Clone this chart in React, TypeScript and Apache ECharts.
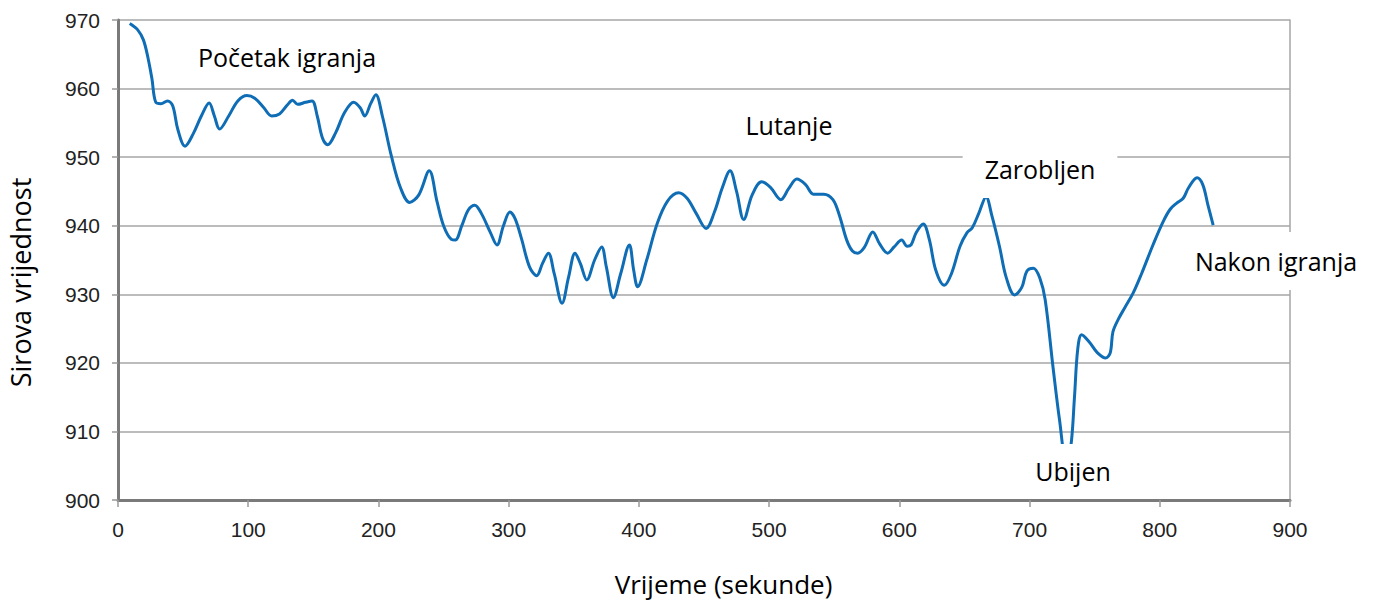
import React, { useEffect, useRef } from "react";
import * as echarts from "echarts";

const timeSec: number[] = [
  9, 15, 19.5, 23, 26, 29, 33, 38, 42, 46, 51.5, 58, 64, 70, 74, 78, 85, 92, 99, 105,
  112, 118, 124, 130, 134, 138, 144, 149, 153, 157, 161, 167, 174, 181, 186, 189.5, 194, 198, 203, 210,
  217, 224, 231, 239, 245, 250, 256, 259, 264, 269, 274, 279, 286, 291, 296, 301, 305, 310, 316, 321.5,
  326, 330.5, 335, 341, 346, 351, 355, 360, 366, 371.4, 375, 380.4, 386, 392.7, 396, 399, 406, 414, 422, 430.5,
  437, 444, 451.6, 458, 464, 470, 475, 480.5, 487, 494.3, 501, 509, 515, 521.3, 528, 534, 542, 549, 554, 559.6,
  564, 568, 573, 579.6, 585, 591, 596, 601.8, 606, 609, 613, 618.4, 623, 628, 634.5, 640, 646.6, 652, 656, 661,
  666.6, 671, 677, 682, 688.5, 694, 698, 703, 708, 712, 718, 723, 728.5, 732, 734.5, 737, 740, 746, 752, 758.5,
  762, 764, 768, 773, 779.6, 786, 795, 802.6, 808, 813, 818, 822, 828.6, 833, 837, 841
];

const rawValue: number[] = [
  969.5, 968.6, 967.1, 964.5, 961.5, 958.0, 957.8, 958.2, 957.5, 954, 951.6, 953.5, 956, 957.9, 956, 954.1, 956, 958.2, 959.0, 958.6,
  957.2, 956.0, 956.3, 957.6, 958.3, 957.7, 958.0, 958.2, 956, 952.8, 951.8, 953.5, 956.5, 958.0, 957.2, 956, 957.8, 959.1, 956, 950.1,
  945.5, 943.4, 944.5, 948.0, 943.5, 940, 938.0, 937.9, 940, 942.3, 943.0, 941.8, 939, 937.2, 940, 942.0, 941, 938, 934, 932.7,
  934.5, 936.0, 933, 928.7, 932.5, 936.0, 934.5, 932.1, 935, 936.9, 934, 929.5, 933, 937.2, 933.5, 931.1, 935, 940.3, 943.6, 944.8,
  944.0, 941.8, 939.6, 942, 945.5, 948.0, 945, 940.9, 944.5, 946.4, 945.6, 943.8, 945.4, 946.8, 946, 944.6, 944.6, 943.8, 941.5, 937.9,
  936.3, 936.0, 936.8, 939.1, 937.3, 936.0, 936.9, 937.9, 937.0, 937.2, 939, 940.25, 938, 933.5, 931.3, 933, 937.0, 939.0, 939.7, 941.8,
  944.2, 941.5, 936.9, 932.5, 929.9, 931, 933.4, 933.8, 932.3, 929.2, 919.4, 911.7, 905, 908.3, 915, 922, 924.1, 923, 921.5, 920.7,
  921.5, 924.5, 926.3, 928, 930.2, 933, 937.3, 940.6, 942.4, 943.3, 944, 945.5, 947.0, 946, 943, 940.1
];

const xTicks = { min: 0, max: 900, interval: 100 };
const yTicks = { min: 900, max: 970, interval: 10 };

const xName = "Vrijeme (sekunde)";
const yName = "Sirova vrijednost";

const annotations: { text: string; x: number; y: number; pad: number[] | number; boxed: boolean }[] = [
  { text: "Početak igranja", x: 287, y: 57, pad: 0, boxed: false },
  { text: "Lutanje", x: 789, y: 125, pad: 0, boxed: false },
  { text: "Zarobljen", x: 1040, y: 169, pad: [15, 22], boxed: true },
  { text: "Ubijen", x: 1073, y: 471, pad: [14, 22, 12, 22], boxed: true },
  { text: "Nakon igranja", x: 1276, y: 261, pad: [15, 22], boxed: true },
];

export default function App() {
  const ref = useRef<HTMLDivElement>(null);
  useEffect(() => {
    if (!ref.current) return;
    const chart = echarts.init(ref.current, null, { renderer: "svg" });
    const data = timeSec.map((t, i) => [t, rawValue[i]]);
    const tickFont = "'Liberation Sans', Arial, sans-serif";
    const textFont = "'Open Sans', 'Noto Sans', sans-serif";
    chart.setOption({
      animation: false,
      backgroundColor: "#ffffff",
      grid: { left: 118, right: 87, top: 20, bottom: 101, containLabel: false, outerBoundsMode: "none" },
      xAxis: {
        type: "value",
        min: xTicks.min,
        max: xTicks.max,
        interval: xTicks.interval,
        name: xName,
        nameLocation: "middle",
        nameGap: 71,
        nameTextStyle: { fontFamily: textFont, fontSize: 26, lineHeight: 26, color: "#000", padding: [0, 0, 0, 39] },
        axisLine: { show: true, lineStyle: { color: "#7a7a7a", width: 3 } },
        axisTick: { show: true, length: 7, lineStyle: { color: "#9a9a9a", width: 1.5 } },
        axisLabel: { fontFamily: tickFont, fontSize: 21, color: "#222", margin: 19 },
        splitLine: { show: false },
      },
      yAxis: [
        {
          type: "value",
          min: yTicks.min,
          max: yTicks.max,
          interval: yTicks.interval,
          name: yName,
          nameLocation: "middle",
          nameGap: 84,
          nameRotate: 90,
          nameTextStyle: { fontFamily: textFont, fontSize: 27, lineHeight: 27, color: "#000", padding: [0, 45, 0, 0] },
          axisLine: { show: true, lineStyle: { color: "#7a7a7a", width: 3 } },
          axisTick: { show: true, length: 6, lineStyle: { color: "#9a9a9a", width: 1.5 } },
          axisLabel: { fontFamily: tickFont, fontSize: 21, color: "#222", margin: 18 },
          splitLine: { show: true, lineStyle: { color: "#a6a6a6", width: 1.5 } },
        },
        {
          type: "value",
          position: "right",
          min: yTicks.min,
          max: yTicks.max,
          interval: yTicks.interval,
          axisLine: { show: true, lineStyle: { color: "#a6a6a6", width: 1.5 } },
          axisTick: { show: false },
          axisLabel: { show: false },
          splitLine: { show: false },
        },
      ],
      series: [
        {
          type: "line",
          data,
          smooth: 0.35,
          showSymbol: false,
          lineStyle: { color: "#0f6db5", width: 3 },
          z: 3,
        },
      ],
      graphic: annotations.map((a) => ({
        type: "text",
        x: a.x,
        y: a.y,
        z: 100,
        style: {
          text: a.text,
          fontFamily: textFont,
          fontSize: 25,
          fill: "#000",
          align: "center",
          verticalAlign: "middle",
          backgroundColor: a.boxed ? "#ffffff" : "transparent",
          padding: a.pad,
          lineHeight: 28,
        },
      })),
    });
    return () => chart.dispose();
  }, []);
  return (
    <div
      ref={ref}
      style={{ position: "fixed", left: 0, top: 0, width: 1377, height: 601, background: "#fff" }}
    />
  );
}
